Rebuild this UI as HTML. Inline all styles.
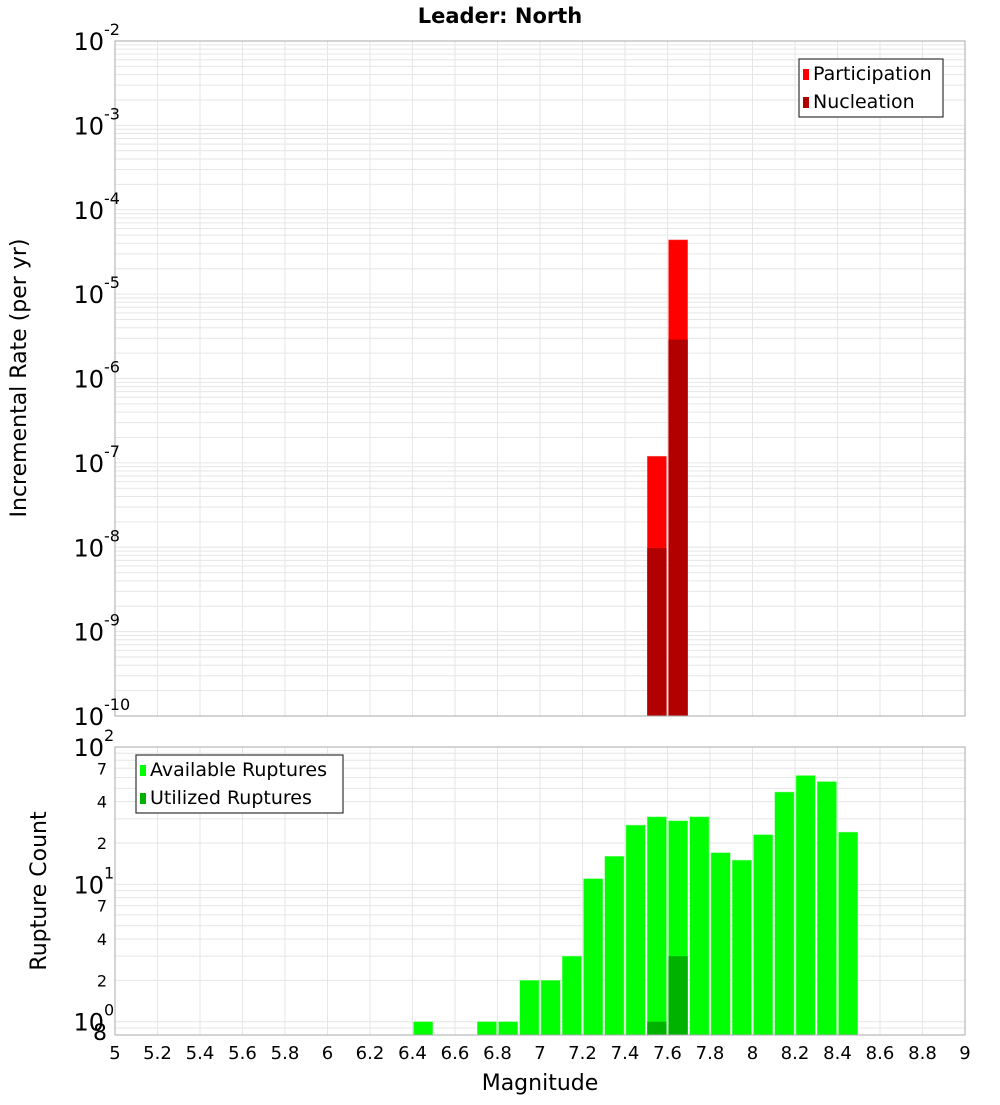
<!DOCTYPE html>
<html><head><meta charset="utf-8"><style>
body{margin:0;background:#fff;font-family:"Liberation Sans","DejaVu Sans",sans-serif}
svg text{font-family:"DejaVu Sans","Liberation Sans",sans-serif}
</style></head><body>
<svg id="chart" width="1000" height="1100" xmlns="http://www.w3.org/2000/svg">
<text x="500" y="23" text-anchor="middle" font-size="21" font-weight="bold">Leader: North</text>
<text transform="translate(26,378) rotate(-90)" text-anchor="middle" font-size="22">Incremental Rate (per yr)</text>
<text transform="translate(46,891) rotate(-90)" text-anchor="middle" font-size="22">Rupture Count</text>
<text x="540" y="1090" text-anchor="middle" font-size="22">Magnitude</text>
<g id="topg"></g><g id="botg"></g>
</svg>
<script>
const mags=[6.45,6.55,6.65,6.75,6.85,6.95,7.05,7.15,7.25,7.35,7.45,7.55,7.65,7.75,7.85,7.95,8.05,8.15,8.25,8.35,8.45];
const available=[1,0,0,1,1,2,2,3,11,16,27,31,29,31,17,15,23,47,62,56,24];
const utilized=[0,0,0,0,0,0,0,0,0,0,0,1,3,0,0,0,0,0,0,0,0];
const rateMags=[7.55,7.65];
const participation=[1.2e-7,4.4e-5];
const nucleation=[9.8e-9,2.9e-6];
const xTicks=[5,5.2,5.4,5.6,5.8,6,6.2,6.4,6.6,6.8,7,7.2,7.4,7.6,7.8,8,8.2,8.4,8.6,8.8,9];

const NS='http://www.w3.org/2000/svg';
function mk(p,tag,a){const e=document.createElementNS(NS,tag);for(const k in a)e.setAttribute(k,a[k]);p.appendChild(e);return e;}
const X0=115,X1=965;
const xs=m=>X0+(m-5)/4*(X1-X0);
const gTop=document.getElementById('topg'),gBot=document.getElementById('botg');
const T0=41,T1=716,tmin=-10,tmax=-2;
const yt=v=>T0+(tmax-Math.log10(v))/(tmax-tmin)*(T1-T0);
const B0=747,B1=1035,bmin=Math.log10(0.8),bmax=2;
const yb=v=>B0+(bmax-Math.log10(v))/(bmax-bmin)*(B1-B0);

function grid(g,Y0,Y1,decMin,decMax,yf,lo,hi){
  for(let d=decMin;d<decMax;d++)for(let k=1;k<10;k++){const v=k*Math.pow(10,d);if(v<lo||v>hi)continue;const y=yf(v);
    const l=mk(g,'line',{x1:X0,x2:X1,y1:y,y2:y,stroke:'#e6e6e6','stroke-width':1});
    
    }
  xTicks.forEach(t=>{const l=mk(g,'line',{x1:xs(t),x2:xs(t),y1:Y0,y2:Y1,stroke:'#e6e6e6','stroke-width':1});
    
    });
}
grid(gTop,T0,T1,-10,-2,yt,1e-10,1e-2);
grid(gBot,B0,B1,-1,2,yb,0.8,100);

const bw=(X1-X0)/40;
rateMags.forEach((m,i)=>{
  const x=xs(m)-bw/2+1;
  let r=mk(gTop,'rect',{x:x,y:yt(participation[i]),width:bw-2,height:T1-yt(participation[i]),fill:'#ff0000',stroke:'#ff8080','stroke-width':0.5});
  
  
  r=mk(gTop,'rect',{x:x,y:yt(nucleation[i]),width:bw-2,height:T1-yt(nucleation[i]),fill:'#b20000'});
  
  
});
mags.forEach((m,i)=>{
  const x=xs(m)-bw/2+1;
  if(available[i]>0){const r=mk(gBot,'rect',{x:x,y:yb(available[i]),width:bw-2,height:B1-yb(available[i]),fill:'#00ff00',stroke:'#80ff80','stroke-width':0.5});
    
    }
  if(utilized[i]>0){const r=mk(gBot,'rect',{x:x,y:yb(utilized[i]),width:bw-2,height:B1-yb(utilized[i]),fill:'#00b200'});
    
    }
});
let f=mk(gTop,'rect',{x:X0,y:T0,width:X1-X0,height:T1-T0,fill:'none',stroke:'#aaa'});


f=mk(gBot,'rect',{x:X0,y:B0,width:X1-X0,height:B1-B0,fill:'none',stroke:'#aaa'});



for(let d=-10;d<=-2;d++){const y=yt(Math.pow(10,d));
  const t=mk(gTop,'text',{x:104,y:y+9,'text-anchor':'end','font-size':24});t.textContent='10';
  
  
  const s=mk(gTop,'text',{x:104,y:y-6,'font-size':16});s.textContent=String(d);
  
  }
[0,1,2].forEach(d=>{const y=yb(Math.pow(10,d));
  const t=mk(gBot,'text',{x:104,y:y+9,'text-anchor':'end','font-size':24});t.textContent='10';
  
  
  const s=mk(gBot,'text',{x:104,y:y-6,'font-size':16});s.textContent=String(d);
  
  });
[2,4,7,20,40,70,0.8].forEach(v=>{const y=yb(v);
  const lab=v===0.8?'8':String(v<10?v:v/10);
  const t=mk(gBot,'text',{x:107,y:y+(v===0.8?5:6),'text-anchor':'end','font-size':v===0.8?22:16});t.textContent=lab;
  
  });
xTicks.forEach(v=>{const t=mk(gBot,'text',{x:xs(v),y:1059,'text-anchor':'middle','font-size':18});t.textContent=String(v);
  
  });

function legend(g,x,y,w,items){
  const b=mk(g,'rect',{x:x,y:y,width:w,height:58,fill:'#fff',stroke:'#333','stroke-width':1.2});
  
  
  items.forEach((it,i)=>{const gy=y+14+i*28;
    const s=mk(g,'rect',{x:x+4,y:gy-4,width:6,height:11,fill:it[1]});
    
    
    const t=mk(g,'text',{x:x+14,y:gy+7,'font-size':19});t.textContent=it[0];
    
    });
}
legend(gTop,799,59,144,[['Participation','#ff0000'],['Nucleation','#b20000']]);
legend(gBot,136,755,207,[['Available Ruptures','#00ff00'],['Utilized Ruptures','#00b200']]);
</script>
</body></html>
